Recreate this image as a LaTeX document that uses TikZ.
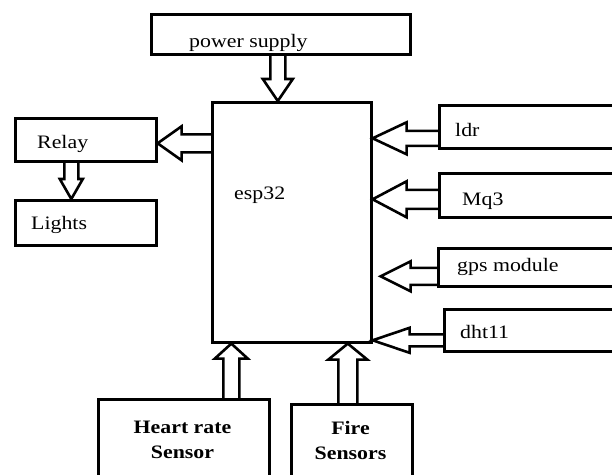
\documentclass[tikz,border=0pt]{standalone}
\usepackage{fontspec}
\setmainfont{Liberation Serif}[FakeStretch=1.15]
\usetikzlibrary{calc}
\tikzset{
  blk/.style={draw, line width=2.6pt, rectangle, anchor=north west, inner sep=0pt},
  lbl/.style={anchor=base west, inner sep=0pt, font=\fontsize{19}{25}\selectfont},
  bld/.style={anchor=base, inner sep=0pt, align=center, font=\fontsize{19}{25}\selectfont\bfseries},
  barrow/.style={draw, line width=2.6pt, line join=miter}
}
% hollow block arrow: from, to, shaft half width, head half width, head length
\newcommand{\blockarrow}[5]{
  \coordinate (ba-a) at (#1);
  \coordinate (ba-b) at (#2);
  \coordinate (ba-n) at ($(ba-b)!#5!(ba-a)$);
  \draw[barrow] ($(ba-a)!#3!90:(ba-b)$) -- ($(ba-n)!#3!90:(ba-b)$) -- ($(ba-n)!#4!90:(ba-b)$) -- (ba-b)
    -- ($(ba-n)!#4!-90:(ba-b)$) -- ($(ba-n)!#3!-90:(ba-b)$) -- ($(ba-a)!#3!-90:(ba-b)$);
}
\begin{document}
\begin{tikzpicture}[x=1pt, y=-1pt]
\useasboundingbox (0,0) rectangle (612,474);
\clip (0,0) rectangle (612,474);
\node[blk, minimum width=259pt, minimum height=40pt] (psu) at (150,13){};
\node[blk, minimum width=159pt, minimum height=240pt] (esp) at (211,101){};
\node[blk, minimum width=141pt, minimum height=43pt] (relay) at (14,117){};
\node[blk, minimum width=141pt, minimum height=45pt] (lights) at (14,199){};
\node[blk, minimum width=190pt, minimum height=43pt] (ldr) at (438,104){};
\node[blk, minimum width=190pt, minimum height=44pt] (mq3) at (438,172){};
\node[blk, minimum width=190pt, minimum height=38pt] (gps) at (437,247){};
\node[blk, minimum width=185pt, minimum height=42pt] (dht) at (443,308){};
\node[blk, minimum width=171pt, minimum height=95pt] (heart) at (97,398){};
\node[blk, minimum width=121pt, minimum height=95pt] (fire) at (290,403){};
\node[lbl] (psu-t) at (189,47){power supply};
\node[lbl] (esp-t) at (234,199){esp32};
\node[lbl] (relay-t) at (37,148){Relay};
\node[lbl] (lights-t) at (31,229){Lights};
\node[lbl] (ldr-t) at (455,136){ldr};
\node[lbl] (mq3-t) at (462,205){Mq3};
\node[lbl] (gps-t) at (457,271){gps module};
\node[lbl] (dht-t) at (460,338){dht11};
\node[bld] (heart-t) at (182.5,458){Heart rate\\Sensor};
\node[bld] (fire-t) at (350.5,459){Fire\\Sensors};
\coordinate (psu-out) at ([xshift=-3pt]psu.south);
\blockarrow{psu-out}{psu-out |- esp.north}{7.5pt}{15pt}{22pt}
\coordinate (relay-in) at ([yshift=-3.5pt]relay.east);
\blockarrow{relay-in -| esp.west}{relay-in}{9pt}{17pt}{24pt}
\coordinate (relay-out) at ([xshift=-14.5pt]relay.south);
\blockarrow{relay-out}{relay-out |- lights.north}{7pt}{11.5pt}{20pt}
\coordinate (ldr-out) at ([yshift=-11.5pt]ldr.west);
\blockarrow{ldr-out}{ldr-out -| esp.east}{7.5pt}{16pt}{34pt}
\coordinate (mq3-out) at ([yshift=-4pt]mq3.west);
\blockarrow{mq3-out}{mq3-out -| esp.east}{9.5pt}{18pt}{34pt}
\coordinate (gps-out) at ([yshift=-9pt]gps.west);
\coordinate (gps-tip) at ($(esp.east |- gps-out)+(8,0)$);
\blockarrow{gps-out}{gps-tip}{8.5pt}{15pt}{30pt}
\coordinate (dht-out) at ([yshift=-10pt]dht.west);
\blockarrow{dht-out}{dht-out -| esp.east}{6pt}{12.5pt}{37pt}
\coordinate (heart-out) at ([xshift=47.5pt]heart.north);
\blockarrow{heart-out}{heart-out |- esp.south}{8pt}{16.5pt}{15pt}
\coordinate (fire-out) at ([xshift=-4pt]fire.north);
\blockarrow{fire-out}{fire-out |- esp.south}{9.5pt}{19.5pt}{16pt}
\end{tikzpicture}
\end{document}
